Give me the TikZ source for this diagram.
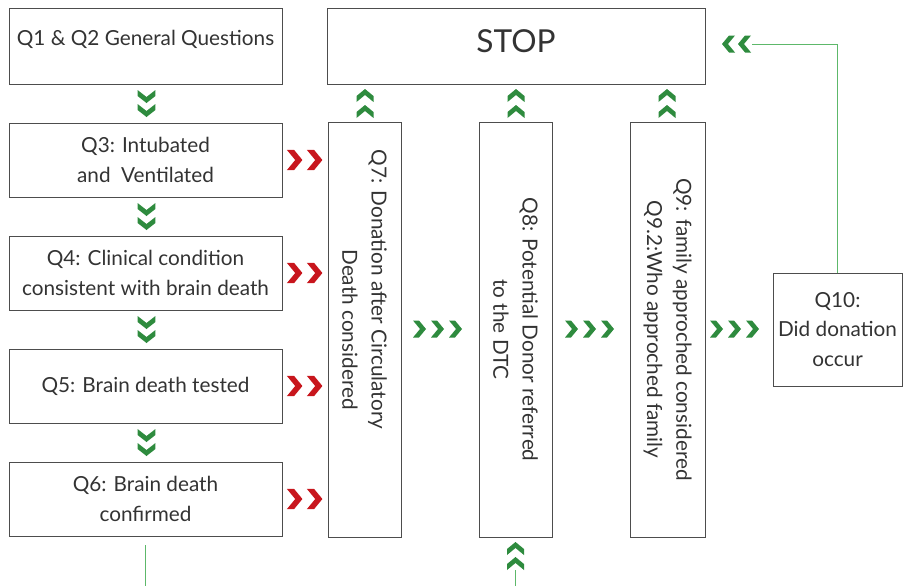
\documentclass[tikz,border=0pt]{standalone}
\usepackage{fontspec}
\setmainfont{Lato}
\usetikzlibrary{calc}

\definecolor{arrgreen}{HTML}{2E8B3E}
\definecolor{arrred}{HTML}{C8161D}
\definecolor{linegreen}{HTML}{5DB86A}
\definecolor{boxline}{HTML}{4D4D4D}
\definecolor{txt}{HTML}{333333}

\newcommand{\pxl}{0.03cm}

\tikzset{
  chev/.pic={\fill (-6,8.5) -- (0,8.5) -- (7,0) -- (0,-8.5) -- (-6,-8.5) -- (1,0) -- cycle;},
}

\begin{document}
\begin{tikzpicture}[x=0.03cm, y=-0.03cm,
    box/.style={draw=boxline, line width=0.8pt, text=txt, align=center, inner sep=0pt,
      font=\fontsize{17.7}{25}\selectfont},
    qbox/.style={box, minimum width=273*\pxl, minimum height=74*\pxl},
    vbox/.style={box, rotate=-90, minimum width=415*\pxl, minimum height=73*\pxl},
    link/.style={linegreen, line width=0.7pt}]
  \useasboundingbox (0,0) rectangle (903,586);

  % left column
  \node[qbox, minimum height=76*\pxl, text depth=16*\pxl] (q1) at (145.5,46) {Q1 \& Q2 General Questions};
  \node[qbox] (q3) at (145.5,160) {Q3: Intubated\\and\ \ Ventilated};
  \node[qbox] (q4) at (145.5,273) {Q4: Clinical condition\\consistent with brain death};
  \node[qbox] (q5) at (145.5,386) {Q5: Brain death tested};
  \node[qbox] (q6) at (145.5,499) {Q6: Brain death\\confirmed};

  % top and vertical boxes
  \node[box, minimum width=378*\pxl, minimum height=76*\pxl, text depth=10*\pxl,
    font=\fontsize{27}{30}\selectfont] (stop) at (516,46) {STOP};
  \node[vbox] (q7) at (364.5,329.5) {Q7: Donation after Circulatory\hspace*{2.4cm}\\Death considered};
  \node[vbox] (q8) at (515.5,329.5) {Q8: Potential Donor referred\\to the DTC};
  \node[vbox, minimum height=75*\pxl] (q9) at (667.5,329.5) {Q9: family approched considered\\Q9.2:Who approched family};
  \node[box, minimum width=129*\pxl, minimum height=113*\pxl] (q10) at (837.5,329.5) {Q10:\\Did donation\\occur};

  \coordinate (stopin) at (752,44);
  \coordinate (q6out) at (145.5,586);
  \coordinate (q8in) at (515.5,586);

  % connectors
  \draw[link] (q10.north) |- (stopin);
  \draw[link, shorten <=9*\pxl] (q6.south) -- (q6out);
  \draw[link, shorten >=33*\pxl] (q8in) -- (q8.east);

  % chevrons
  \foreach \g in {103,216,329,442} {
    \pic[arrgreen, rotate=-90, yscale=1.05] at (146.5,\g-7) {chev};
    \pic[arrgreen, rotate=-90, yscale=1.05] at (146.5,\g+7) {chev};
  }
  \foreach \g in {160,273,386,499} {
    \pic[arrred, scale=1.2] at (294,\g) {chev};
    \pic[arrred, scale=1.2] at (314,\g) {chev};
  }
  \foreach \s in {419,571,716} {
    \foreach \k in {0,18,36}
      \pic[arrgreen] at (\s+\k,329) {chev};
  }
  \foreach \c in {365,516,667} {
    \pic[arrgreen, rotate=90] at (\c,112) {chev};
    \pic[arrgreen, rotate=90] at (\c,96) {chev};
  }
  \pic[arrgreen, rotate=180] at (729,44) {chev};
  \pic[arrgreen, rotate=180] at (745,44) {chev};
  \pic[arrgreen, rotate=90] at (515.5,564) {chev};
  \pic[arrgreen, rotate=90] at (515.5,549) {chev};
\end{tikzpicture}
\end{document}
